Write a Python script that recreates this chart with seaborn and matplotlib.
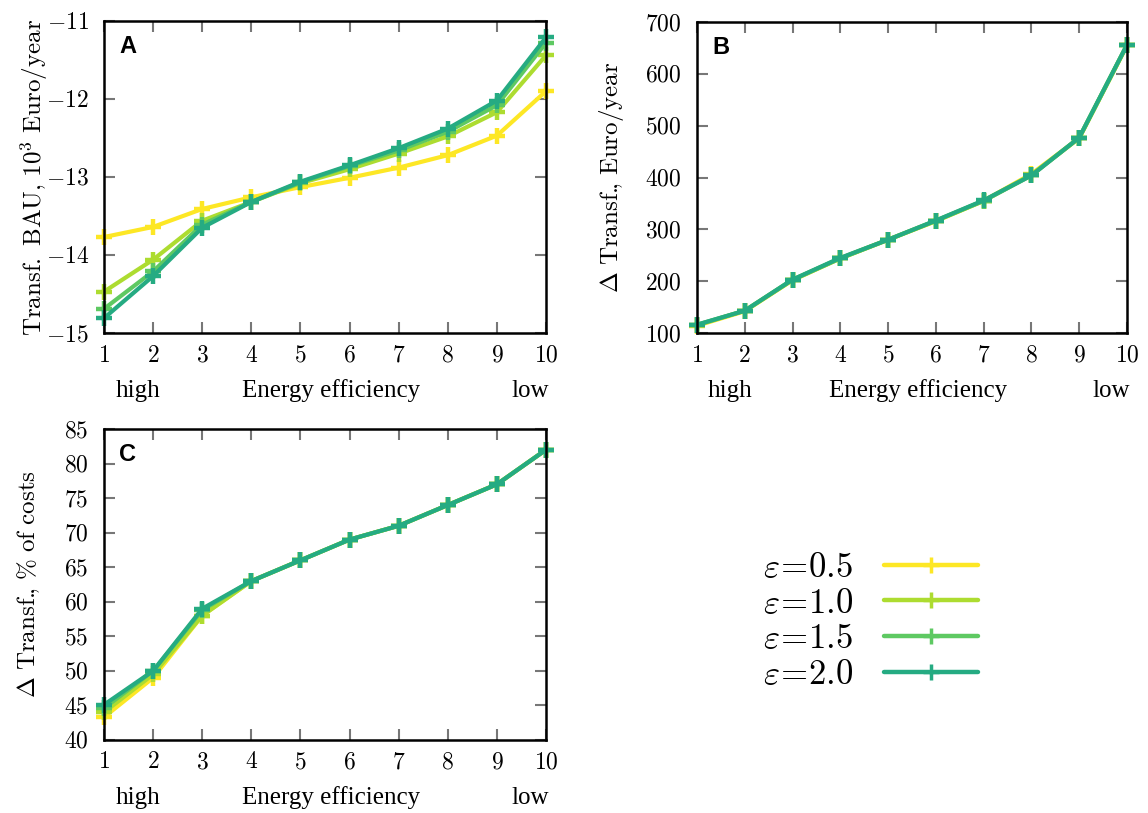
import numpy as np
import pandas as pd
import matplotlib
matplotlib.use("Agg")
import matplotlib.pyplot as plt
from matplotlib.ticker import FuncFormatter
import seaborn as sns

# ---- data -------------------------------------------------------------
levels = [1, 2, 3, 4, 5, 6, 7, 8, 9, 10]
eps_labels = [r"$\varepsilon\!=\!0.5$", r"$\varepsilon\!=\!1.0$",
              r"$\varepsilon\!=\!1.5$", r"$\varepsilon\!=\!2.0$"]

# Transfer under business-as-usual, 10^3 Euro/year
bau_05 = [-13.77, -13.64, -13.41, -13.26, -13.13, -13.01, -12.88, -12.72, -12.47, -11.90]
bau_10 = [-14.47, -14.06, -13.56, -13.32, -13.08, -12.90, -12.70, -12.48, -12.17, -11.44]
bau_15 = [-14.69, -14.21, -13.61, -13.32, -13.07, -12.86, -12.66, -12.42, -12.08, -11.28]
bau_20 = [-14.81, -14.27, -13.65, -13.32, -13.06, -12.85, -12.63, -12.38, -12.02, -11.21]

# Change in transfer, Euro/year
dt_05 = [114, 142, 202, 244, 280, 316, 355, 407, 476, 655]
dt_10 = [115, 143, 202, 244, 280, 316, 355, 405, 476, 655]
dt_15 = [116, 143, 203, 244, 280, 317, 355, 404, 477, 656]
dt_20 = [116, 143, 203, 245, 280, 317, 356, 404, 477, 656]

# Change in transfer, % of costs
pct_05 = [43.3, 49.0, 58.0, 63, 66, 69, 71, 74, 77, 82]
pct_10 = [44.0, 49.5, 58.0, 63, 66, 69, 71, 74, 77, 82]
pct_15 = [44.6, 50.0, 58.8, 63, 66, 69, 71, 74, 77, 82]
pct_20 = [45.1, 50.0, 59.0, 63, 66, 69, 71, 74, 77, 82]

palette = ["#fde725", "#addc30", "#5ec962", "#25ab82"]


def long_frame(series):
    rows = []
    for lab, vals in zip(eps_labels, series):
        for lv, v in zip(levels, vals):
            rows.append({"level": lv, "value": v, "eps": lab})
    return pd.DataFrame(rows)


df_a = long_frame([bau_05, bau_10, bau_15, bau_20])
df_b = long_frame([dt_05, dt_10, dt_15, dt_20])
df_c = long_frame([pct_05, pct_10, pct_15, pct_20])

# ---- style ------------------------------------------------------------
sns.set_theme(style="white")
plt.rcParams["font.family"] = ["Liberation Serif", "DejaVu Serif"]
plt.rcParams["mathtext.fontset"] = "cm"
plt.rcParams["axes.unicode_minus"] = True
plt.rcParams["text.color"] = "black"
plt.rcParams["axes.labelcolor"] = "black"

fig = plt.figure(figsize=(11.48, 8.13), dpi=100)
ax_a = fig.add_axes([0.0906, 0.5904, 0.385, 0.3838])
ax_b = fig.add_axes([0.6071, 0.5904, 0.3746, 0.3825])
ax_c = fig.add_axes([0.0906, 0.0898, 0.385, 0.3825])

line_kw = dict(marker="+", markersize=12, markeredgewidth=3.2, linewidth=3.0)


def tick_fmt(v, pos):
    if abs(v - round(v)) < 1e-9:
        v = int(round(v))
    return f"${v}$"


def style_axes(ax, ylim, yticks, ylabel, letter, labelpad):
    ax.set_xlim(1, 10)
    ax.set_ylim(*ylim)
    ax.set_xticks(levels)
    ax.set_yticks(yticks)
    ax.xaxis.set_major_formatter(FuncFormatter(tick_fmt))
    ax.yaxis.set_major_formatter(FuncFormatter(tick_fmt))
    ax.tick_params(axis="both", which="both", direction="in", length=8,
                   width=1.5, color="#777777", labelcolor="black", labelsize=17,
                   top=True, right=True, bottom=True, left=True)
    ax.tick_params(axis="x", pad=9)
    ax.tick_params(axis="y", pad=11)
    for sp in ax.spines.values():
        sp.set_color("black")
        sp.set_linewidth(1.8)
        sp.set_visible(True)
    ax.set_xlabel("")
    ax.set_ylabel(ylabel, fontsize=18, labelpad=labelpad)
    ax.text(0.035, 0.955, letter, transform=ax.transAxes, fontsize=17,
            fontweight="bold", family="Liberation Sans", color="black",
            va="top", ha="left")
    tr = ax.get_xaxis_transform()
    ax.text(1.69, -0.185, "high", transform=tr, ha="center", va="center", fontsize=18)
    ax.text(5.62, -0.185, "Energy efficiency", transform=tr, ha="center",
            va="center", fontsize=18)
    ax.text(9.68, -0.185, "low", transform=tr, ha="center", va="center", fontsize=18)


sns.lineplot(data=df_a, x="level", y="value", hue="eps", palette=palette,
             ax=ax_a, legend="full", **line_kw)
handles, labels = ax_a.get_legend_handles_labels()
ax_a.get_legend().remove()

sns.lineplot(data=df_b, x="level", y="value", hue="eps", palette=palette,
             ax=ax_b, legend=False, **line_kw)
sns.lineplot(data=df_c, x="level", y="value", hue="eps", palette=palette,
             ax=ax_c, legend=False, **line_kw)

for ax in (ax_a, ax_b, ax_c):
    for ln in ax.lines:
        ln.set_clip_on(False)
        ln.set_markeredgecolor(ln.get_color())
        ln.set_markerfacecolor(ln.get_color())

style_axes(ax_a, (-15, -11), [-15, -14, -13, -12, -11],
           r"$\mathrm{Transf.\ BAU{,}\ 10^3\ Euro/year}$", "A", -3)
style_axes(ax_b, (100, 700), [100, 200, 300, 400, 500, 600, 700],
           r"$\Delta\ \mathrm{Transf.\!\!{,}\ Euro/year}$", "B", 14)
style_axes(ax_c, (40, 85), [40, 45, 50, 55, 60, 65, 70, 75, 80, 85],
           r"$\Delta\ \mathrm{Transf.\!\!{,}\ \%\ of\ costs}$", "C", 16)

for h in handles:
    h.set_linewidth(3.2)
    h.set_markersize(11)
    h.set_markeredgewidth(2.5)
    h.set_markeredgecolor(h.get_color())

fig.legend(handles, labels, loc="center", bbox_to_anchor=(0.758, 0.235),
           frameon=False, fontsize=25, markerfirst=False, handlelength=2.7,
           handletextpad=0.9, labelspacing=0.08, numpoints=1)

fig.savefig("out.png", dpi=100)
